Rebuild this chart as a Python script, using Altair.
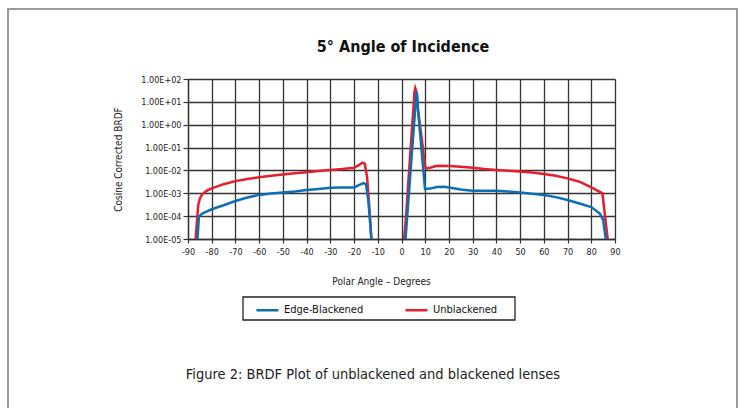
import json
import altair as alt
import pandas as pd

# ---------------- data ----------------
x_ticks = list(range(-90, 91, 10))
y_ticks = [1e-5, 1e-4, 1e-3, 1e-2, 1e-1, 1e0, 1e1, 1e2]
y_tick_labels = ["1.00E-05", "1.00E-04", "1.00E-03", "1.00E-02",
                 "1.00E-01", "1.00E+00", "1.00E+01", "1.00E+02"]

series_names = ["Edge-Blackened", "Unblackened"]
series_colors = ["#0b6fb6", "#e61e2b"]

blue_left_deg = [-86.0, -85.4, -84, -82, -80, -75, -70, -65, -60, -55, -50, -45, -40,
                 -35, -30, -25, -20, -18, -16, -15, -14, -13.2, -12.7]
blue_left_val = [1e-5, 9.5e-5, 1.3e-4, 1.6e-4, 2e-4, 3e-4, 4.6e-4, 6.5e-4, 8.5e-4, 9.7e-4,
                 1.07e-3, 1.2e-3, 1.4e-3, 1.55e-3, 1.75e-3, 1.8e-3, 1.8e-3, 2.3e-3, 2.8e-3,
                 2.5e-3, 5e-4, 5e-5, 1e-5]
blue_right_deg = [1.7, 3, 4, 5, 6, 6.3, 6.6, 7, 8, 9, 9.9, 12, 15, 18, 20, 25, 30, 40, 45,
                  50, 55, 60, 65, 70, 75, 80, 83.6, 85, 86.1]
blue_right_val = [1e-5, 6.6e-4, 1.7e-2, 0.42, 10, 28, 20, 4, 0.27, 1.8e-2, 1.55e-3, 1.6e-3,
                  1.9e-3, 1.95e-3, 1.8e-3, 1.45e-3, 1.3e-3, 1.3e-3, 1.2e-3, 1.07e-3, 9.6e-4,
                  8.5e-4, 6.8e-4, 5.1e-4, 3.6e-4, 2.5e-4, 1.3e-4, 6.8e-5, 1e-5]

red_left_deg = [-86.8, -85.7, -85, -84, -82, -80, -75, -70, -65, -60, -55, -50, -45, -40,
                -35, -30, -25, -20, -18, -16.5, -15.5, -14.5, -13.5, -12.7]
red_left_val = [1e-5, 3e-4, 6e-4, 9e-4, 1.3e-3, 1.65e-3, 2.5e-3, 3.4e-3, 4.2e-3, 5e-3,
                5.8e-3, 6.6e-3, 7.5e-3, 8.3e-3, 9.4e-3, 1.05e-2, 1.15e-2, 1.3e-2, 1.7e-2,
                2.2e-2, 2.0e-2, 5e-3, 2e-4, 1e-5]
red_right_deg = [1.1, 2, 3, 4, 5, 5.4, 5.8, 6.2, 7, 8, 9, 9.6, 10.2, 12, 15, 20, 25, 30,
                 35, 40, 45, 50, 55, 60, 65, 70, 75, 80, 84.7, 85.8, 86.9]
red_right_val = [1e-5, 1.3e-4, 5e-3, 0.15, 5, 25, 40, 30, 4, 0.65, 0.1, 3e-2, 1.2e-2,
                 1.3e-2, 1.6e-2, 1.55e-2, 1.45e-2, 1.3e-2, 1.15e-2, 1.05e-2, 9.8e-3, 9e-3,
                 8.2e-3, 7e-3, 5.8e-3, 4.5e-3, 3.2e-3, 1.8e-3, 1e-3, 1e-4, 1e-5]

title_text = "5° Angle of Incidence"
x_title = "Polar Angle – Degrees"
y_title = "Cosine Corrected BRDF"
caption_text = "Figure 2: BRDF Plot of unblackened and blackened lenses"

FONT = "DejaVu Sans Condensed"
GRID = "#333333"

# ---------------- table ----------------
rows = []
for name, seg, degs, vals in [
    ("Unblackened", "L", red_left_deg, red_left_val),
    ("Unblackened", "R", red_right_deg, red_right_val),
    ("Edge-Blackened", "L", blue_left_deg, blue_left_val),
    ("Edge-Blackened", "R", blue_right_deg, blue_right_val),
]:
    for i, (d, v) in enumerate(zip(degs, vals)):
        rows.append({"series": name, "seg": seg, "i": i, "deg": d, "brdf": v})
df = pd.DataFrame(rows)

W, H = 427, 160
PL, PT = 188, 79

label_expr = json.dumps(y_tick_labels) + "[round(log(datum.value)/LN10)+5]"

common_axis = dict(gridColor=GRID, gridWidth=1.3, gridOpacity=1, domainColor=GRID,
                   domainWidth=1.3, tickColor=GRID, tickWidth=1.2,
                   labelFont=FONT, titleFont=FONT, labelColor="#222222",
                   titleColor="#222222", titleFontWeight="normal")

x_enc = alt.X("deg:Q", scale=alt.Scale(domain=[-90, 90], nice=False),
              axis=alt.Axis(values=x_ticks, title=x_title, titleX=193, titleY=42,
                            titleBaseline="middle", titleAlign="center", titleFontSize=10,
                            labelFontSize=9, labelExpr="datum.value + ''",
                            labelPadding=4, tickSize=4, labelFlush=False, **common_axis))
y_enc = alt.Y("brdf:Q", scale=alt.Scale(type="log", domain=[1e-5, 100], nice=False),
              axis=alt.Axis(values=y_ticks, labelExpr=label_expr, title=y_title,
                            titleX=-70, titleY=80, titleAngle=-90,
                            titleBaseline="middle", titleAlign="center",
                            titleFontSize=10, labelFontSize=9, tickSize=5,
                            labelPadding=2, **common_axis))
color_enc = alt.Color("series:N",
                      scale=alt.Scale(domain=series_names, range=series_colors),
                      legend=alt.Legend(title=None, orient="none", legendX=67, legendY=218.5,
                                        direction="horizontal", symbolType="stroke",
                                        symbolSize=484, symbolStrokeWidth=2.5,
                                        labelFontSize=11, labelFont=FONT, labelColor="#111111",
                                        columnPadding=36, labelOffset=4, padding=0))

base = alt.Chart(df).mark_line(strokeWidth=2.5, clip=True).encode(
    x=x_enc, y=y_enc, color=color_enc, detail="seg:N", order="i:Q")

red = base.transform_filter(alt.datum.series == "Unblackened")
blue = base.transform_filter(alt.datum.series == "Edge-Blackened")

frame_df = pd.DataFrame({"k": [0]})
outer = alt.Chart(frame_df).mark_rect(fill=None, stroke="#9a9a9a", strokeWidth=2).encode(
    x=alt.value(8 - PL), x2=alt.value(737 - PL), y=alt.value(9 - PT), y2=alt.value(430 - PT))
legend_box = alt.Chart(frame_df).mark_rect(fill=None, stroke="#222222", strokeWidth=1.3).encode(
    x=alt.value(243 - PL), x2=alt.value(515 - PL), y=alt.value(297 - PT), y2=alt.value(320 - PT))
caption = alt.Chart(frame_df).mark_text(font=FONT, fontSize=14.5, color="#222222",
                                        align="center", baseline="middle").encode(
    x=alt.value(373 - PL), y=alt.value(375 - PT), text=alt.value(caption_text))
title = alt.Chart(frame_df).mark_text(font=FONT, fontSize=16, fontWeight="bold",
                                      color="#111111", align="center",
                                      baseline="middle").encode(
    x=alt.value(403 - PL), y=alt.value(47 - PT), text=alt.value(title_text))

chart = alt.layer(outer, legend_box, red, blue, caption, title).properties(
    width=W, height=H,
    autosize=alt.AutoSizeParams(type="none"),
    padding={"left": PL, "top": PT, "right": 741 - PL - W, "bottom": 408 - PT - H},
).configure_view(stroke=None).configure(background="white")

chart.save("out.html", embed_options={"renderer": "svg", "actions": False})
